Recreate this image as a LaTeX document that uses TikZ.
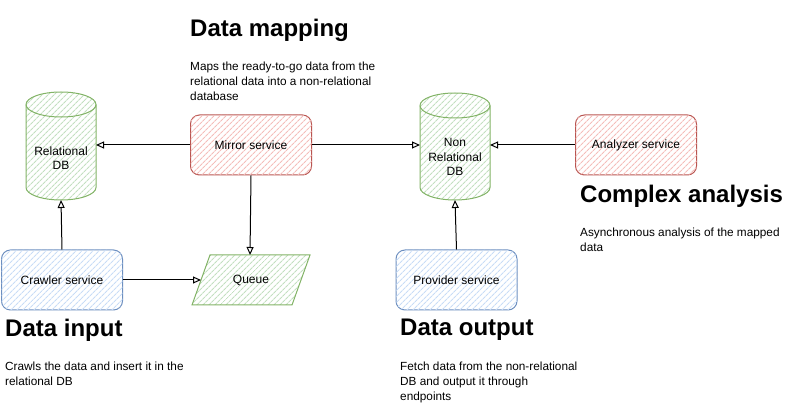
\documentclass[tikz,border=0pt]{standalone}
\usepackage{fontspec}
\setmainfont{Liberation Sans}
\usetikzlibrary{patterns.meta,arrows.meta}
\definecolor{gS}{HTML}{82B366}\definecolor{gH}{HTML}{C3DFC0}
\definecolor{rS}{HTML}{B85450}\definecolor{rH}{HTML}{F4BDBA}
\definecolor{bS}{HTML}{6C8EBF}\definecolor{bH}{HTML}{C8DCF6}
\tikzset{
  hatch/.style={pattern={Lines[angle=45,distance=4pt,line width=1.1pt]},pattern color=#1},
  svc/.style={draw=#1S,line width=1pt,rounded corners=9pt,minimum width=121pt,minimum height=60pt,
    font=\fontsize{12}{14}\selectfont,align=center,inner sep=0pt,postaction={hatch=#1H}},
  lbl/.style={font=\fontsize{12}{14.5}\selectfont,align=center,inner sep=0pt},
  head/.style={font=\fontsize{24}{28}\selectfont\bfseries,anchor=west,inner sep=0pt},
  desc/.style={font=\fontsize{11.8}{15}\selectfont,align=left,anchor=north west,inner sep=0pt},
  conn/.style={line width=1pt,-{Triangle[open,length=8pt,width=7pt]}},
}
\newcommand{\cyl}[5]{% cx, ytop-center, ybottom-center, rx, ry
  \path[hatch=gH] (#1-#4,#2) arc[start angle=180,end angle=360,x radius=#4,y radius=#5] -- (#1+#4,#3) arc[start angle=0,end angle=180,x radius=#4,y radius=#5] -- cycle;
  \draw[gS,line width=1pt] (#1-#4,#2) arc[start angle=180,end angle=360,x radius=#4,y radius=#5] -- (#1+#4,#3) arc[start angle=0,end angle=180,x radius=#4,y radius=#5] -- cycle;
  \draw[gS,line width=1pt] (#1-#4,#2) arc[start angle=180,end angle=0,x radius=#4,y radius=#5];
}
\begin{document}
\begin{tikzpicture}[x=1pt,y=-1pt]
\useasboundingbox (0,0) rectangle (801,411);
% cylinders
\cyl{61}{104.5}{187.5}{35}{12.5}
\cyl{455}{105.5}{187.5}{35}{12.5}
\node[lbl] (rdb) at (61,158) {Relational\\DB};
\node[lbl] (ndb) at (455,157) {Non\\Relational\\DB};
\coordinate (rdbE) at (96,145);
\coordinate (rdbB) at (61,200);
\coordinate (ndbW) at (420,145);
\coordinate (ndbE) at (490,145);
\coordinate (ndbB) at (455,200);
% services
\node[svc=r] (mirror) at (251,145) {Mirror service};
\node[svc=r] (analyzer) at (636,145) {Analyzer service};
\node[svc=b] (crawler) at (62,280) {Crawler service};
\node[svc=b] (provider) at (456.5,280) {Provider service};
% queue
\path[hatch=gH] (210,255) -- (310,255) -- (292,305) -- (192,305) -- cycle;
\draw[gS,line width=1pt] (210,255) -- (310,255) -- (292,305) -- (192,305) -- cycle;
\node[lbl] (queue) at (251,280) {Queue};
\coordinate (queueN) at (250,255);
\coordinate (queueW) at (201,280);
% connectors
\draw[conn] (mirror.west) -- (rdbE);
\draw[conn] (mirror.east) -- (ndbW);
\draw[conn] (analyzer.west) -- (ndbE);
\draw[conn] (mirror.south) -- (queueN);
\draw[conn] (crawler.east) -- (queueW);
\draw[conn] (crawler.north) -- (rdbB);
\draw[conn] (provider.north) -- (ndbB);
% headings
\node[head] (h1) at (190,30) {Data mapping};
\node[head] (h2) at (580,196) {Complex analysis};
\node[head] (h3) at (5,330) {Data input};
\node[head] (h4) at (400,330) {Data output};
% descriptions
\node[desc] (d1) at (190,62) {Maps the ready-to-go data from the\\relational data into a non-relational\\database};
\node[desc] (d2) at (580,228) {Asynchronous analysis of the mapped\\data};
\node[desc] (d3) at (5,362) {Crawls the data and insert it in the\\relational DB};
\node[desc] (d4) at (400,362) {Fetch data from the non-relational\\DB and output it through\\endpoints};
\end{tikzpicture}
\end{document}
